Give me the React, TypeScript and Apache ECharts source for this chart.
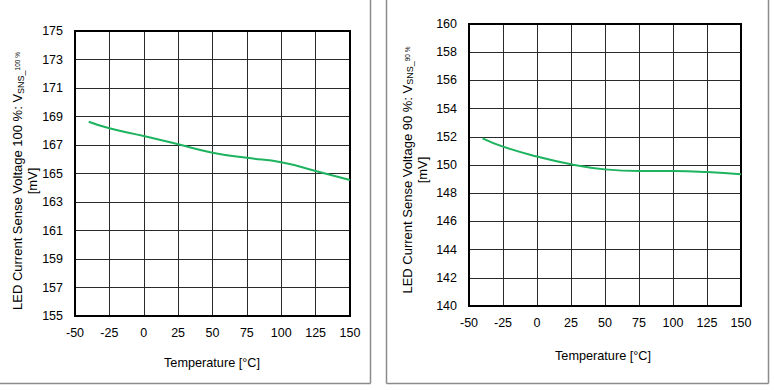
import React, { useEffect, useRef } from "react";
import * as echarts from "echarts";

// Temperature sweep points [°C]
const temperatures = [-40, -25, 0, 25, 50, 75, 100, 125, 150];
// V_SNS at 100 % duty [mV]
const vsns100 = [168.63, 168.17, 167.63, 167.05, 166.46, 166.1, 165.79, 165.18, 164.54];
// V_SNS at 90 % duty [mV]
const vsns90 = [151.89, 151.3, 150.6, 150.05, 149.69, 149.57, 149.57, 149.5, 149.34];

const xTicks = { min: -50, max: 150, interval: 25 };
const yTicks100 = { min: 155, max: 175, interval: 2 };
const yTicks90 = { min: 140, max: 160, interval: 2 };

const FONT = "Liberation Sans, Arial, Helvetica, sans-serif";
const LINE_COLOR = "#1db35f";
const PANEL_BORDER = "#8c8c8c";
const LABEL_SIZE = 12.5;

function toPairs(xs: number[], ys: number[]) {
  return xs.map((x, i) => [x, ys[i]]);
}

function xAxisFor(gridIndex: number) {
  return {
    type: "value" as const,
    gridIndex,
    min: xTicks.min,
    max: xTicks.max,
    interval: xTicks.interval,
    axisLine: { show: false },
    axisTick: { show: false },
    axisLabel: { color: "#000", fontSize: LABEL_SIZE, fontFamily: FONT, margin: 10 },
    splitLine: { show: true, lineStyle: { color: "#2a2a2a", width: 1 } },
  };
}

function yAxisFor(gridIndex: number, t: { min: number; max: number; interval: number }) {
  return {
    type: "value" as const,
    gridIndex,
    min: t.min,
    max: t.max,
    interval: t.interval,
    axisLine: { show: false },
    axisTick: { show: false },
    axisLabel: { color: "#000", fontSize: LABEL_SIZE, fontFamily: FONT, margin: 12 },
    splitLine: { show: true, lineStyle: { color: "#2a2a2a", width: 1 } },
  };
}

const yTitleRich = {
  m: { fontSize: 13, lineHeight: 15, fontFamily: FONT, fill: "#000" },
  s: { fontSize: 9, lineHeight: 9, verticalAlign: "bottom", fontFamily: FONT, fill: "#000" },
  t: { fontSize: 6.5, lineHeight: 8, verticalAlign: "middle", fontFamily: FONT, fill: "#000" },
};

function lineSeries(index: number, ys: number[]) {
  return {
    type: "line",
    xAxisIndex: index,
    yAxisIndex: index,
    data: toPairs(temperatures, ys),
    smooth: 0.5,
    showSymbol: false,
    lineStyle: { color: LINE_COLOR, width: 2 },
    z: 4,
  };
}

export default function App() {
  const ref = useRef<HTMLDivElement>(null);

  useEffect(() => {
    if (!ref.current) return;
    const chart = echarts.init(ref.current, undefined, { renderer: "svg" });
    chart.setOption({
      animation: false,
      backgroundColor: "#fff",
      grid: [
        { left: 75, top: 31, width: 275, height: 285, show: true, borderColor: "#000", borderWidth: 2, backgroundColor: "transparent", z: 3 },
        { left: 469, top: 24, width: 272, height: 282, show: true, borderColor: "#000", borderWidth: 2, backgroundColor: "transparent", z: 3 },
      ],
      xAxis: [xAxisFor(0), xAxisFor(1)],
      yAxis: [yAxisFor(0, yTicks100), yAxisFor(1, yTicks90)],
      series: [lineSeries(0, vsns100), lineSeries(1, vsns90)],
      graphic: [
        // panel frames
        { type: "line", shape: { x1: 370.5, y1: 0, x2: 370.5, y2: 383.5 }, style: { stroke: PANEL_BORDER, lineWidth: 1.5 } },
        { type: "line", shape: { x1: 0, y1: 383.5, x2: 370.5, y2: 383.5 }, style: { stroke: PANEL_BORDER, lineWidth: 1.5 } },
        { type: "line", shape: { x1: 386.5, y1: 0, x2: 386.5, y2: 383.5 }, style: { stroke: PANEL_BORDER, lineWidth: 1.5 } },
        { type: "line", shape: { x1: 768.5, y1: 0, x2: 768.5, y2: 383.5 }, style: { stroke: PANEL_BORDER, lineWidth: 1.5 } },
        { type: "line", shape: { x1: 386.5, y1: 383.5, x2: 768.5, y2: 383.5 }, style: { stroke: PANEL_BORDER, lineWidth: 1.5 } },
        // x-axis titles
        {
          type: "text",
          x: 212,
          y: 362.5,
          style: { text: "Temperature [°C]", fontSize: 12.7, fontFamily: FONT, fill: "#000", align: "center", verticalAlign: "middle" },
        },
        {
          type: "text",
          x: 603,
          y: 356,
          style: { text: "Temperature [°C]", fontSize: 12.7, fontFamily: FONT, fill: "#000", align: "center", verticalAlign: "middle" },
        },
        // y-axis titles
        {
          type: "text",
          x: 25,
          y: 181,
          rotation: Math.PI / 2,
          style: {
            text: "{m|LED Current Sense Voltage 100 %: V}{s|SNS_}{t|100 %}\n{m|[mV]}",
            rich: yTitleRich,
            align: "center",
            verticalAlign: "middle",
          },
        },
        {
          type: "text",
          x: 414.5,
          y: 170,
          rotation: Math.PI / 2,
          style: {
            text: "{m|LED Current Sense Voltage 90 %: V}{s|SNS_}{t|90 %}\n{m|[mV]}",
            rich: yTitleRich,
            align: "center",
            verticalAlign: "middle",
          },
        },
      ],
    });
    return () => chart.dispose();
  }, []);

  return (
    <div
      ref={ref}
      style={{ position: "fixed", left: 0, top: 0, width: 774, height: 390 }}
    />
  );
}
